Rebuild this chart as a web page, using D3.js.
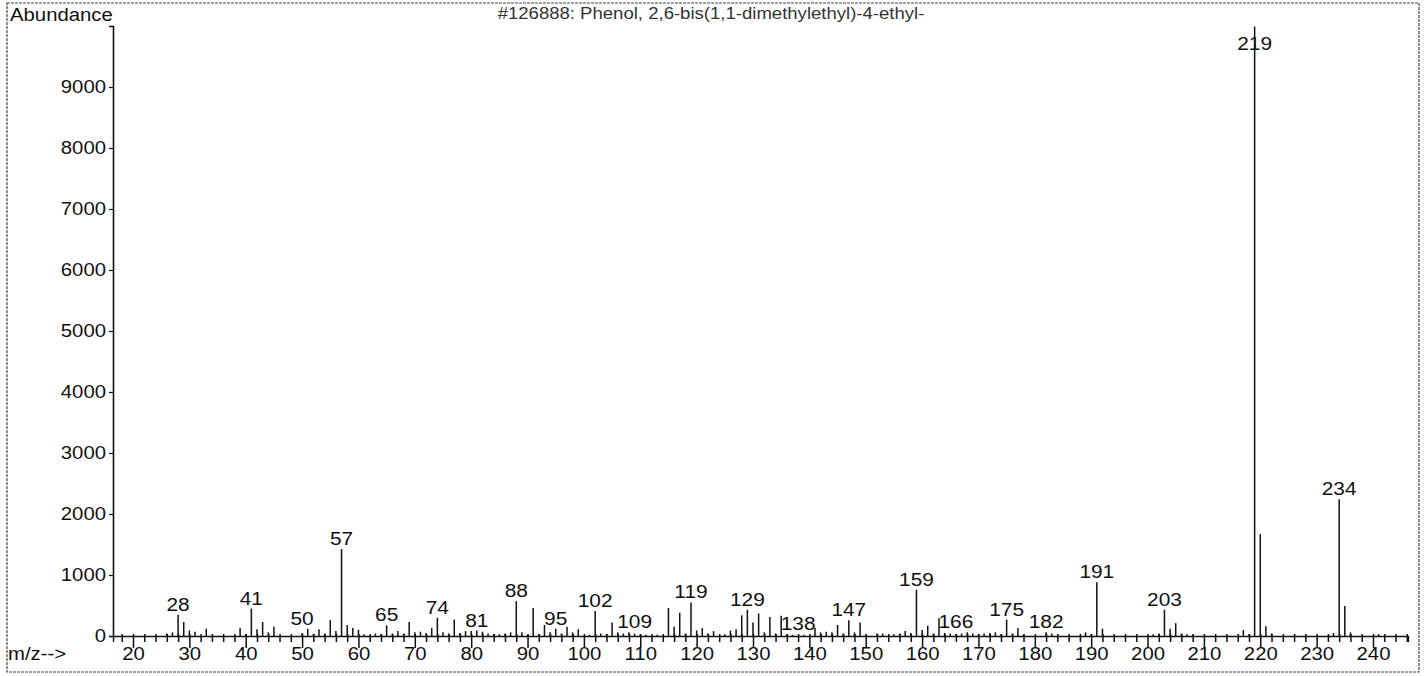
<!DOCTYPE html>
<html>
<head>
<meta charset="utf-8">
<script src="https://cdn.jsdelivr.net/npm/d3@7"></script>
<style>
  html, body { margin: 0; padding: 0; background: #fff; }
  svg { display: block; }
  text { font-family: "Liberation Sans", Arial, Helvetica, sans-serif; fill: #111; }
</style>
</head>
<body>
<svg id="chart" width="1428" height="676"></svg>
<script>
// ---- data ----
const titleText = "#126888: Phenol, 2,6-bis(1,1-dimethylethyl)-4-ethyl-";
const mzValues = [26,27,28,29,30,31,33,39,40,41,42,43,44,45,50,51,52,53,54,55,56,57,58,59,60,61,63,64,65,66,67,68,69,70,71,72,73,74,75,76,77,78,79,80,81,82,83,84,85,86,87,88,89,90,91,92,93,94,95,96,97,98,99,101,102,103,104,105,106,107,108,109,110,111,113,115,116,117,118,119,120,121,122,123,125,126,127,128,129,130,131,132,133,134,135,136,137,139,141,142,143,144,145,146,147,148,149,150,152,153,155,156,157,158,159,160,161,162,163,164,165,166,167,168,169,170,171,172,173,174,175,176,177,178,182,183,189,190,191,192,201,202,203,204,205,206,207,208,217,218,219,220,221,222,233,234,235,236,241];
const abundanceValues = [40,60,350,230,90,70,120,130,30,450,110,230,60,150,50,120,30,110,40,260,80,1425,180,130,100,30,40,30,175,40,80,40,230,60,70,50,130,300,60,40,270,50,80,80,90,70,40,30,30,40,60,570,60,20,460,30,180,60,120,40,150,60,110,20,410,40,30,220,60,40,60,40,30,20,20,460,150,380,40,550,90,130,40,80,30,90,110,340,430,220,370,60,310,40,330,30,20,20,130,60,70,60,180,40,260,60,220,20,40,40,30,40,80,50,760,100,170,40,290,50,40,30,40,60,40,30,40,50,60,30,270,40,130,20,60,40,60,30,880,120,30,40,430,120,210,40,30,20,100,30,9990,1670,160,40,50,2240,490,60,30];
const labeledMz = [28,41,50,57,65,74,81,88,95,102,109,119,129,138,147,159,166,175,182,191,203,219,234];
const yTickValues = [0,1000,2000,3000,4000,5000,6000,7000,8000,9000];
const xTickLabels = [20,30,40,50,60,70,80,90,100,110,120,130,140,150,160,170,180,190,200,210,220,230,240];
const xMinorTicks = d3.range(18, 247, 2);

// ---- layout ----
const svg = d3.select("#chart");
const baseY = 636, topY = 26;
const axisX = 113, axisRight = 1408;
const stretch = 1.13;

const x = d3.scaleLinear().domain([20, 240]).range([133, 1373]);
const y = d3.scaleLinear().domain([0, 10000]).range([baseY, topY]);

function stretchText(sel, s) {
  sel.each(function() {
    const t = d3.select(this);
    const tx = +t.attr("x") || 0, ty = +t.attr("y") || 0;
    const prev = t.attr("transform") || "";
    t.attr("x", 0).attr("y", 0)
     .attr("transform", prev + ` translate(${tx},${ty}) scale(${s},1)`);
  });
}

// frame
svg.append("rect").attr("x", 7).attr("y", 3).attr("width", 1412).attr("height", 669)
  .attr("fill", "none").attr("stroke", "#444").attr("stroke-width", 1.2)
  .attr("stroke-dasharray", "3,1");

// title and axis name
svg.append("text").attr("x", 10).attr("y", 21).attr("font-size", 18)
  .text("Abundance").call(stretchText, stretch);
svg.append("text").attr("x", 711).attr("y", 19).attr("font-size", 16)
  .attr("text-anchor", "middle").style("fill", "#333")
  .text(titleText).call(stretchText, 1.16);

// y axis
const yAxis = svg.append("g").attr("transform", `translate(${axisX},0)`)
  .call(d3.axisLeft(y).tickValues(yTickValues).tickFormat(d3.format("d"))
    .tickSizeOuter(0).tickSize(4).tickPadding(3));
yAxis.select(".domain").attr("stroke", "#111").attr("stroke-width", 1.6);
yAxis.selectAll(".tick line").attr("stroke", "#111").attr("stroke-width", 1.2);
yAxis.selectAll(".tick text").attr("font-size", 18).attr("font-family", null)
  .style("fill", "#111").call(stretchText, stretch);

// x axis (minor ticks every 2, major every 10)
const xAxisScale = x.copy().domain([x.invert(axisX), x.invert(axisRight)]).range([axisX, axisRight]);
const xAxis = svg.append("g").attr("transform", `translate(0,${baseY})`)
  .call(d3.axisBottom(xAxisScale).tickValues(xMinorTicks).tickSizeOuter(0).tickSize(6).tickFormat(""));
xAxis.select(".domain").attr("stroke", "#111").attr("stroke-width", 1.4);
xAxis.selectAll(".tick line").attr("y1", -2).attr("stroke", "#111").attr("stroke-width", 1.5)
  .attr("y2", d => d % 10 === 0 ? 12 : 6);
const xLab = svg.append("g").attr("transform", `translate(0,${baseY})`)
  .call(d3.axisBottom(x).tickValues(xTickLabels).tickSize(0).tickPadding(24));
xLab.select(".domain").remove();
xLab.selectAll(".tick text").attr("font-size", 18).attr("font-family", null)
  .attr("dy", 0).style("fill", "#111").call(stretchText, stretch);

svg.append("text").attr("x", 8).attr("y", 660).attr("font-size", 18)
  .text("m/z-->").call(stretchText, stretch);

// peaks
const peaks = mzValues.map((m, i) => ({ mz: m, ab: abundanceValues[i] }));
svg.append("g").selectAll("line").data(peaks).join("line")
  .attr("x1", d => x(d.mz)).attr("x2", d => x(d.mz))
  .attr("y1", y(0)).attr("y2", d => y(d.ab))
  .attr("stroke", "#111").attr("stroke-width", 1.5);

// peak labels: placed just above the tallest peak under the label
const labelG = svg.append("g");
labeledMz.forEach(m => {
  const half = String(m).length * 0.62 * 16 * stretch / 2;
  const lo = x.invert(x(m) - half), hi = x.invert(x(m) + half);
  const maxAb = d3.max(peaks.filter(p => p.mz >= lo && p.mz <= hi), p => p.ab) || 0;
  const by = Math.max(y(maxAb) - 4, 50);
  labelG.append("text").attr("x", x(m)).attr("y", by).attr("font-size", 18.5)
    .attr("text-anchor", "middle").text(m).call(stretchText, stretch);
});
</script>
</body>
</html>
